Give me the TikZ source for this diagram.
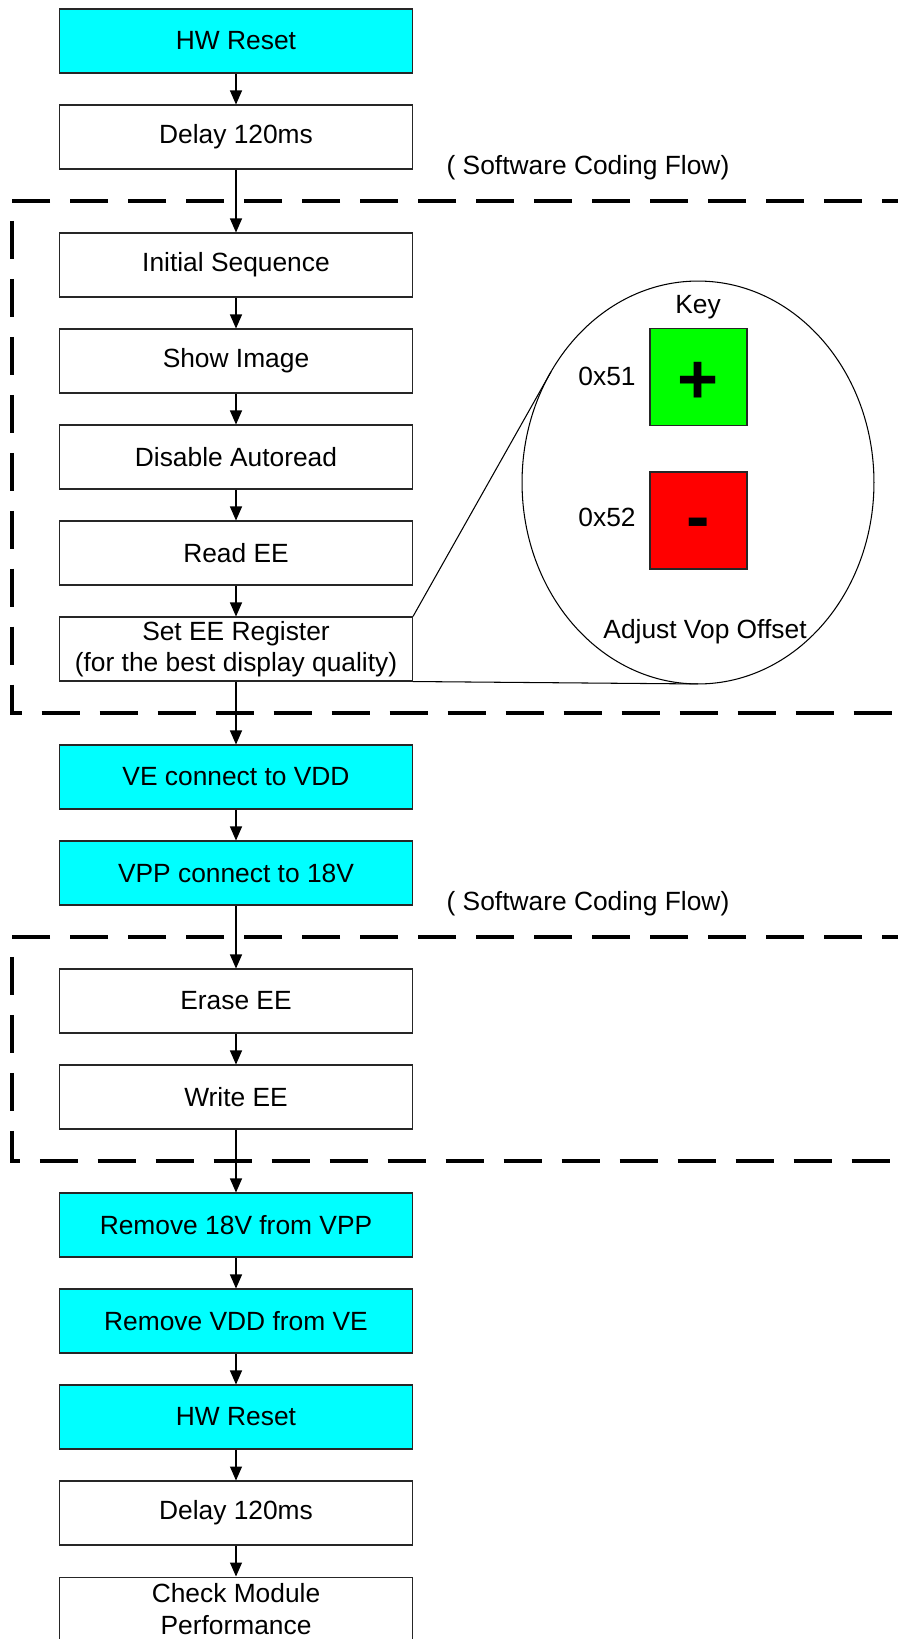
\documentclass[tikz,border=0pt]{standalone}
\usepackage{fontspec}
\setmainfont{Liberation Sans}
\usetikzlibrary{arrows.meta,shapes.geometric}
\definecolor{hwcyan}{RGB}{0,255,255}
\definecolor{keygreen}{RGB}{0,255,0}
\definecolor{keyred}{RGB}{255,0,0}
\tikzset{
    flowbox/.style={draw=black!85, line width=0.6pt, fill=white, minimum width=7.06cm, minimum height=1.28cm,
        inner sep=0pt, align=center, font=\fontsize{15}{18}\selectfont},
    hwbox/.style={flowbox, fill=hwcyan},
    flow/.style={-{Triangle[length=0.28cm,width=0.24cm]}, line width=0.6pt},
    swframe/.style={line width=2.3pt, dash pattern=on 0.76cm off 0.4cm},
    plain/.style={font=\fontsize{15}{18}\selectfont, inner sep=0pt}
}
\begin{document}
\begin{tikzpicture}[x=0.02cm, y=-0.02cm]
    \useasboundingbox (0,0) rectangle (898,1639);
    \clip (0,0) rectangle (898,1639);

    % Software coding frames
    \draw[swframe] (920,201) -- (12,201) -- (12,713) -- (920,713);
    \draw[swframe] (920,937) -- (12,937) -- (12,1161) -- (920,1161);
    \node[plain] (swlabel1) at (588,168) {( Software Coding Flow)};
    \node[plain] (swlabel2) at (588,904) {( Software Coding Flow)};

    % Flow boxes
    \node[hwbox]   (hwreset)  at (236,41)   {HW Reset};
    \node[flowbox] (delay)    at (236,137)  {Delay 120ms};
    \node[flowbox] (initseq)  at (236,265)  {Initial Sequence};
    \node[flowbox] (showimg)  at (236,361)  {Show Image};
    \node[flowbox] (autoread) at (236,457)  {Disable Autoread};
    \node[flowbox] (readee)   at (236,553)  {Read EE};
    \node[flowbox] (seteereg) at (236,649)  {Set EE Register\\(for the best display quality)};
    \node[hwbox]   (veconn)   at (236,777)  {VE connect to VDD};
    \node[hwbox]   (vppconn)  at (236,873)  {VPP connect to 18V};
    \node[flowbox] (eraseee)  at (236,1001) {Erase EE};
    \node[flowbox] (writeee)  at (236,1097) {Write EE};
    \node[hwbox]   (rmvpp)    at (236,1225) {Remove 18V from VPP};
    \node[hwbox]   (rmve)     at (236,1321) {Remove VDD from VE};
    \node[hwbox]   (hwreset2) at (236,1417) {HW Reset};
    \node[flowbox] (delay2)   at (236,1513) {Delay 120ms};
    \node[flowbox] (checkmod) at (236,1609) {Check Module\\Performance};

    % Arrows
    \foreach \a/\b in {hwreset/delay, delay/initseq, initseq/showimg, showimg/autoread,
                       autoread/readee, readee/seteereg, seteereg/veconn, veconn/vppconn,
                       vppconn/eraseee, eraseee/writeee, writeee/rmvpp, rmvpp/rmve,
                       rmve/hwreset2, hwreset2/delay2, delay2/checkmod}
        \draw[flow] (\a.south) -- (\b.north);

    % Key detail
    \node[ellipse, draw, line width=0.6pt, minimum width=7.04cm, minimum height=8.06cm,
          inner sep=0pt, outer sep=0pt] (keyview) at (698,482.5) {};
    \draw[line width=0.6pt] (seteereg.north east) -- (keyview.143.4);
    \draw[line width=0.6pt] (seteereg.south east) -- (keyview.south);
    \node[plain] (keylabel) at (698,307) {Key};
    \node[draw=black!85, line width=0.6pt, fill=keygreen, minimum size=1.94cm] (keyplus) at (698.5,377) {};
    \node[draw=black!85, line width=0.6pt, fill=keyred, minimum size=1.94cm] (keyminus) at (698.5,520.5) {};
    \node[font=\fontsize{40}{40}\bfseries, inner sep=0pt, anchor=base] at (698.5,403) {+};
    \node[font=\fontsize{40}{40}\bfseries, inner sep=0pt, anchor=base] at (698.5,540) {-};
    \node[plain] (plushex) at (607,376) {0x51};
    \node[plain] (minushex) at (607,517) {0x52};
    \node[plain] (vopoffset) at (705,632) {Adjust Vop Offset};
\end{tikzpicture}
\end{document}
